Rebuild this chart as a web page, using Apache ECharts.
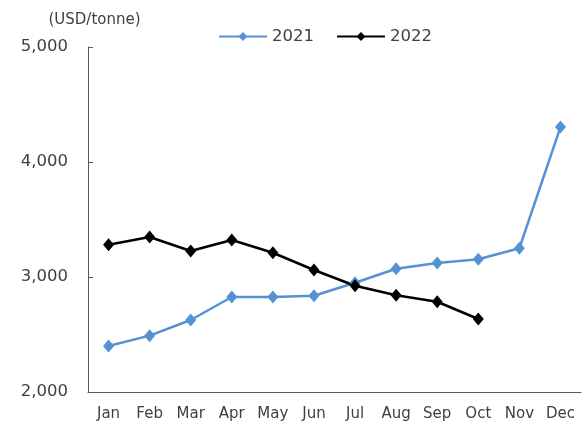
<!DOCTYPE html>
<html>
<head>
<meta charset="utf-8">
<script src="https://cdn.jsdelivr.net/npm/echarts@6/dist/echarts.min.js"></script>
<style>
html, body { margin: 0; padding: 0; background: #fff; }
#chart { width: 583px; height: 428px; }
</style>
</head>
<body>
<div id="chart"></div>
<script>
var months = ['Jan', 'Feb', 'Mar', 'Apr', 'May', 'Jun', 'Jul', 'Aug', 'Sep', 'Oct', 'Nov', 'Dec'];
var data2021 = [2400, 2490, 2626, 2826, 2826, 2837, 2950, 3072, 3122, 3154, 3250, 4304];
var data2022 = [3281, 3348, 3226, 3322, 3211, 3061, 2924, 2841, 2785, 2635];
var unitLabel = '(USD/tonne)';

var font = '"DejaVu Sans", sans-serif';
var textColor = '#404040';

var chart = echarts.init(document.getElementById('chart'));
chart.setOption({
    animation: false,
    textStyle: { fontFamily: font },
    legend: {
        top: 23,
        left: 213,
        itemWidth: 48,
        itemHeight: 11,
        itemGap: 22,
        textStyle: { fontSize: 16.5, color: textColor, fontFamily: font },
        data: ['2021', '2022']
    },
    grid: {
        left: 88,
        right: 2,
        top: 47,
        bottom: 36
    },
    xAxis: {
        type: 'category',
        data: months,
        axisLine: { lineStyle: { color: '#595959', width: 1 } },
        axisTick: { inside: true, length: 5, lineStyle: { color: '#595959' } },
        axisLabel: { interval: 0, hideOverlap: false, fontSize: 15, color: textColor, margin: 15, fontFamily: font }
    },
    yAxis: {
        type: 'value',
        min: 2000,
        max: 5000,
        interval: 1000,
        name: unitLabel,
        nameLocation: 'end',
        nameGap: 19,
        nameTextStyle: { fontSize: 15, color: textColor, align: 'center', padding: [0, 0, 0, 13], fontFamily: font },
        splitLine: { show: false },
        axisLine: { show: true, lineStyle: { color: '#595959', width: 1 } },
        axisTick: { show: true, inside: true, length: 5, lineStyle: { color: '#595959' } },
        axisLabel: {
            fontSize: 16.5,
            color: textColor,
            margin: 20,
            fontFamily: font,
            formatter: function (v) { return v.toLocaleString('en-US'); }
        }
    },
    series: [{
        name: '2021',
        type: 'line',
        data: data2021,
        symbol: 'diamond',
        symbolSize: [11, 13],
        itemStyle: { color: '#5592d2' },
        lineStyle: { color: '#5592d2', width: 2.5 }
    }, {
        name: '2022',
        type: 'line',
        data: data2022,
        symbol: 'diamond',
        symbolSize: [11, 13],
        itemStyle: { color: '#000' },
        lineStyle: { color: '#000', width: 2.5 }
    }]
});
</script>
</body>
</html>
